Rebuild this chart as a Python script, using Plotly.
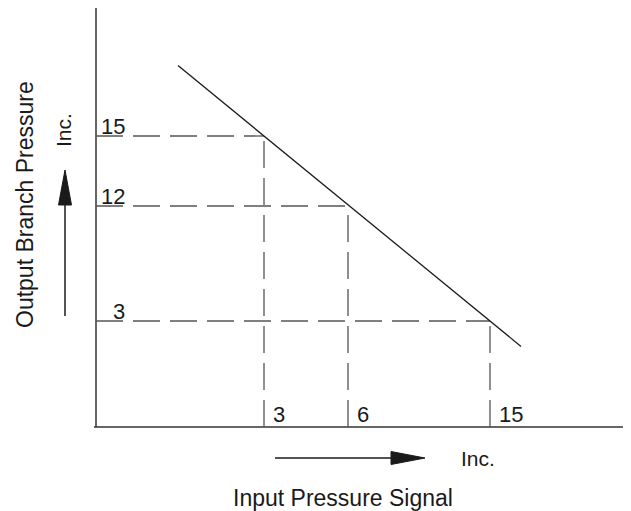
import numpy as np
import plotly.graph_objects as go

# ---- data ----
input_signal = [3, 6, 15]          # input pressure signal values
output_pressure = [15, 12, 3]      # output branch pressure values
input_tick_labels = ["3", "6", "15"]
output_tick_labels = ["15", "12", "3"]
x_title = "Input Pressure Signal"
y_title = "Output Branch Pressure"
inc_label = "Inc."

# ---- schematic scale: where each value sits on the (non-linear) diagram axes ----
x_scale = {3: 168, 6: 252, 15: 394}
y_scale = {15: 291, 12: 221, 3: 106}

LINE = "#1a1a1a"
DASH = "#555555"
TEXT = "#1a1a1a"
FONT = "Liberation Sans, Arial, Helvetica, sans-serif"

px_x = [x_scale[v] for v in input_signal]
px_y = [y_scale[v] for v in output_pressure]

fig = go.Figure()

# axes lines
fig.add_trace(go.Scatter(x=[0, 0], y=[0, 419], mode="lines",
                         line=dict(color="#333", width=1.5), hoverinfo="skip"))
fig.add_trace(go.Scatter(x=[-2, 535], y=[0, 0], mode="lines",
                         line=dict(color="#333", width=1.5), hoverinfo="skip"))

# dashed guide lines
for xv, yv in zip(px_x, px_y):
    fig.add_trace(go.Scatter(x=[0, xv], y=[yv, yv], mode="lines",
                             line=dict(color=DASH, width=1.3, dash="27px,10px"),
                             hoverinfo="skip"))
    fig.add_trace(go.Scatter(x=[xv, xv], y=[0, yv], mode="lines",
                             line=dict(color=DASH, width=1.3, dash="27px,10px"),
                             hoverinfo="skip"))

# operating line through first and last points, extended past them
slope = (px_y[-1] - px_y[0]) / (px_x[-1] - px_x[0])
x0, x1 = px_x[0] - 86, px_x[-1] + 31
fig.add_trace(go.Scatter(x=[x0, x1],
                         y=[px_y[0] + slope * (x0 - px_x[0]), px_y[0] + slope * (x1 - px_x[0])],
                         mode="lines", line=dict(color=LINE, width=1.3), hoverinfo="skip"))

# arrows (shaft + filled head)
fig.add_trace(go.Scatter(x=[-31, -31], y=[111, 224], mode="lines",
                         line=dict(color=LINE, width=1.5), hoverinfo="skip"))
fig.add_trace(go.Scatter(x=[-37.5, -24.5, -31, -37.5], y=[222, 222, 257, 222], mode="lines",
                         fill="toself", fillcolor=LINE, line=dict(color=LINE, width=1),
                         hoverinfo="skip"))
fig.add_trace(go.Scatter(x=[179, 297], y=[-31, -31], mode="lines",
                         line=dict(color=LINE, width=1.5), hoverinfo="skip"))
fig.add_trace(go.Scatter(x=[295, 295, 329, 295], y=[-24.5, -37.5, -31, -24.5], mode="lines",
                         fill="toself", fillcolor=LINE, line=dict(color=LINE, width=1),
                         hoverinfo="skip"))

ann = []
for lab, v in zip(output_tick_labels, output_pressure):
    ann.append(dict(x=31, y=y_scale[v] + 10, text=lab, xanchor="right", yanchor="middle",
                    showarrow=False, font=dict(size=22, color=TEXT, family=FONT)))
for lab, v in zip(input_tick_labels, input_signal):
    ann.append(dict(x=x_scale[v] + 7, y=13, text=lab, xanchor="left", yanchor="middle",
                    showarrow=False, font=dict(size=22, color=TEXT, family=FONT)))
ann.append(dict(x=382, y=-31, text=inc_label, showarrow=False,
                font=dict(size=21, color=TEXT, family=FONT)))
ann.append(dict(x=-33, y=297, text=inc_label, showarrow=False, textangle=-90,
                font=dict(size=21, color=TEXT, family=FONT)))
ann.append(dict(x=247, y=-71, text=x_title, showarrow=False,
                font=dict(size=23, color=TEXT, family=FONT)))
ann.append(dict(x=-71, y=222, text=y_title, showarrow=False, textangle=-90,
                font=dict(size=23, color=TEXT, family=FONT)))

# page body has an 8px margin: size figure to fit and shift ranges to compensate
fig.update_layout(
    width=623, height=503,
    margin=dict(l=0, r=0, t=0, b=0, pad=0),
    paper_bgcolor="white", plot_bgcolor="white",
    showlegend=False,
    xaxis=dict(range=[-88, 535], visible=False, fixedrange=True),
    yaxis=dict(range=[-84, 419], visible=False, fixedrange=True),
    annotations=ann,
)

fig.write_html("out.html", config={"displayModeBar": False})
